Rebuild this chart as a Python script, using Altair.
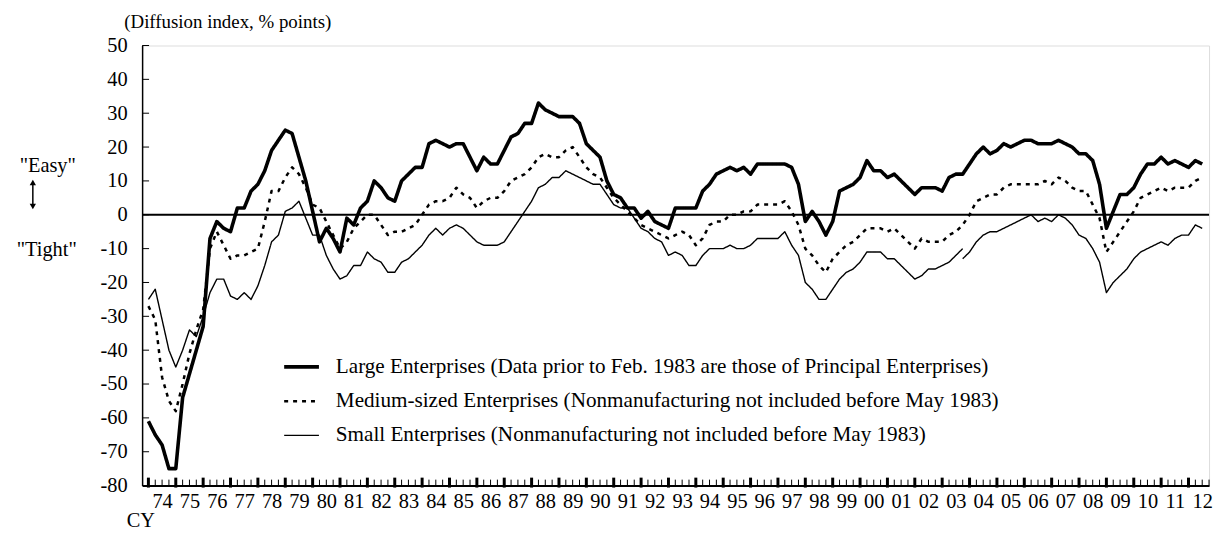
import altair as alt
import pandas as pd

FONT = "Liberation Serif"
START_YEAR = 1974          # first observation: 1974 Q1, quarterly data
NEW_BASIS_INDEX = 119      # Small Enterprises: new survey basis starts here (2003 Q4)

# Lending attitudes DI, quarterly, 1974Q1 ... 2012Q3
large = [-61, -65, -68, -75, -75, -54, -47, -40, -33, -7, -2, -4, -5, 2, 2, 7, 9, 13, 19, 22,
         25, 24, 17, 10, 1, -8, -4, -7, -11, -1, -3, 2, 4, 10, 8, 5, 4, 10, 12, 14,
         14, 21, 22, 21, 20, 21, 21, 17, 13, 17, 15, 15, 19, 23, 24, 27, 27, 33, 31, 30,
         29, 29, 29, 27, 21, 19, 17, 10, 6, 5, 2, 2, -1, 1, -2, -3, -4, 2, 2, 2,
         2, 7, 9, 12, 13, 14, 13, 14, 12, 15, 15, 15, 15, 15, 14, 9, -2, 1, -2, -6,
         -2, 7, 8, 9, 11, 16, 13, 13, 11, 12, 10, 8, 6, 8, 8, 8, 7, 11, 12, 12,
         15, 18, 20, 18, 19, 21, 20, 21, 22, 22, 21, 21, 21, 22, 21, 20, 18, 18, 16, 9,
         -4, 1, 6, 6, 8, 12, 15, 15, 17, 15, 16, 15, 14, 16, 15]
medium = [-27, -31, -48, -55, -58, -50, -41, -34, -28, -10, -5, -9, -13, -12, -12, -11, -10, -2, 7, 7,
          11, 14, 12, 8, 3, 2, -2, -6, -10, -8, -4, -2, 0, 0, -3, -6, -5, -5, -4, -3,
          0, 3, 4, 4, 5, 8, 6, 5, 2, 4, 5, 5, 7, 10, 11, 12, 14, 17, 18, 17,
          17, 19, 20, 17, 14, 12, 11, 8, 5, 3, 1, -1, -3, -4, -5, -6, -7, -6, -5, -6,
          -9, -7, -3, -2, -2, 0, 0, 1, 1, 3, 3, 3, 3, 4, 1, -3, -10, -12, -15, -17,
          -13, -11, -9, -8, -6, -4, -4, -4, -5, -4, -6, -8, -10, -7, -8, -8, -8, -6, -5, -3,
          0, 4, 5, 6, 6, 8, 9, 9, 9, 9, 9, 10, 9, 11, 10, 8, 7, 7, 3, -1,
          -11, -8, -5, -2, 1, 5, 6, 7, 8, 7, 8, 8, 8, 10, 11]
small_old = [-25, -22, -31, -40, -45, -40, -34, -36, -30, -23, -19, -19, -24, -25, -23, -25, -21, -15, -8, -6,
             1, 2, 4, -1, -6, -6, -12, -16, -19, -18, -15, -15, -11, -13, -14, -17, -17, -14, -13, -11,
             -9, -6, -4, -6, -4, -3, -4, -6, -8, -9, -9, -9, -8, -5, -2, 1, 4, 8, 9, 11,
             11, 13, 12, 11, 10, 9, 9, 6, 3, 2, 2, -1, -4, -5, -7, -8, -12, -11, -12, -15,
             -15, -12, -10, -10, -10, -9, -10, -10, -9, -7, -7, -7, -7, -5, -9, -12, -20, -22, -25, -25,
             -22, -19, -17, -16, -14, -11, -11, -11, -13, -13, -15, -17, -19, -18, -16, -16, -15, -14, -12, -10]
small_new = [-13, -11, -8, -6, -5, -5, -4, -3, -2, -1, 0, -2, -1, -2, 0, -1, -3, -6, -7, -10,
             -14, -23, -20, -18, -16, -13, -11, -10, -9, -8, -9, -7, -6, -6, -3, -4]

names = [
    "Large Enterprises (Data prior to Feb. 1983 are those of Principal Enterprises)",
    "Medium-sized Enterprises (Nonmanufacturing not included before May 1983)",
    "Small Enterprises (Nonmanufacturing not included before May 1983)",
]
years = list(range(1974, 2013))
y_ticks = list(range(-80, 51, 10))

W, H = 1074, 443
X_DOMAIN = [1973.77, 2012.75]
TICK_FS = 20.5


def t_of(i):
    return START_YEAR + i / 4


rows = []
for i, v in enumerate(large):
    rows.append({"t": t_of(i), "v": v, "series": names[0], "seg": "L"})
for i, v in enumerate(medium):
    rows.append({"t": t_of(i), "v": v, "series": names[1], "seg": "M"})
for i, v in enumerate(small_old):
    rows.append({"t": t_of(i), "v": v, "series": names[2], "seg": "S1"})
for k, v in enumerate(small_new):
    rows.append({"t": t_of(NEW_BASIS_INDEX + k), "v": v, "series": names[2], "seg": "S2"})
df = pd.DataFrame(rows)

xscale = alt.Scale(domain=X_DOMAIN, nice=False, zero=False)
yscale = alt.Scale(domain=[-80, 50], nice=False, zero=False)

xaxis = alt.Axis(
    values=[y + 0.5 for y in years],
    labelExpr="substring(toString(floor(datum.value)), 2, 4)",
    ticks=False, grid=False, domainColor="black", domainWidth=2,
    labelFont=FONT, labelFontSize=TICK_FS, labelColor="black", labelPadding=6,
    labelFlush=False, labelOverlap=False, labelBound=False,
    title="CY", titleX=-16, titleY=35, titleAlign="left", titleBaseline="middle",
    titleFont=FONT, titleFontSize=TICK_FS, titleFontWeight="normal", titleColor="black")
yaxis = alt.Axis(
    values=y_ticks, labelExpr="toString(datum.value)",
    ticks=False, grid=False, domainColor="black", domainWidth=1.5,
    labelFont=FONT, labelFontSize=TICK_FS, labelColor="black", labelPadding=15,
    labelOverlap=False, labelFlush=False, labelBound=False, title=None)

leg = alt.Legend(
    title=None, orient="none", legendX=141, legendY=304, direction="vertical",
    symbolType="stroke", symbolSize=1225, symbolStrokeColor="black",
    labelFont=FONT, labelFontSize=21.3, labelColor="black", labelOffset=15,
    labelLimit=0, rowPadding=5, padding=0,
)

X = lambda: alt.X("t:Q", scale=xscale, axis=xaxis)
Y = lambda: alt.Y("v:Q", scale=yscale, axis=yaxis)

lines = alt.Chart(df).mark_line(strokeJoin="round").encode(
    x=X(), y=Y(),
    color=alt.Color("series:N", scale=alt.Scale(domain=names, range=["black"] * 3), legend=leg),
    strokeDash=alt.StrokeDash("series:N", scale=alt.Scale(domain=names, range=[[1, 0], [4, 5], [1, 0]]), legend=leg),
    strokeWidth=alt.StrokeWidth("series:N", scale=alt.Scale(domain=names, range=[3.6, 1.4, 1.2]), legend=leg),
    detail="seg:N",
)

zero = alt.Chart(pd.DataFrame({"v": [0]})).mark_rule(color="black", strokeWidth=2).encode(
    y=Y(), x=alt.value(0), x2=alt.value(W))

ytick_df = pd.DataFrame({"v": y_ticks})
yticks = alt.Chart(ytick_df).mark_rule(color="black", strokeWidth=1).encode(
    y=Y(), x=alt.value(0), x2=alt.value(7))

q_ticks = [y + q / 4 for y in years for q in range(1, 4)]
thin = alt.Chart(pd.DataFrame({"t": q_ticks})).mark_rule(color="black", strokeWidth=1).encode(
    x=X(), y=alt.value(H - 6), y2=alt.value(H))
thick = alt.Chart(pd.DataFrame({"t": [float(y) for y in years]})).mark_rule(color="black", strokeWidth=3).encode(
    x=X(), y=alt.value(H - 8), y2=alt.value(H + 2))

one = pd.DataFrame({"a": [0]})
title_txt = alt.Chart(one).mark_text(text="(Diffusion index, % points)", font=FONT, fontSize=19,
                                      align="left", baseline="middle", color="black").encode(
    x=alt.value(-18), y=alt.value(-24))
easy = alt.Chart(one).mark_text(text='"Easy"', font=FONT, fontSize=20.5, align="center",
                                baseline="middle", color="black").encode(
    x=alt.value(-95), y=alt.value(121))
tight = alt.Chart(one).mark_text(text='"Tight"', font=FONT, fontSize=20.5, align="center",
                                 baseline="middle", color="black").encode(
    x=alt.value(-96), y=alt.value(206))
arrow_line = alt.Chart(one).mark_rule(color="black", strokeWidth=1.5).encode(
    x=alt.value(-110), y=alt.value(139), y2=alt.value(161))
arrow_up = alt.Chart(one).mark_point(shape="triangle-up", filled=True, size=40, color="black", opacity=1).encode(
    x=alt.value(-110), y=alt.value(138))
arrow_dn = alt.Chart(one).mark_point(shape="triangle-down", filled=True, size=40, color="black", opacity=1).encode(
    x=alt.value(-110), y=alt.value(162))

chart = alt.layer(
    zero, yticks, thin, thick, lines, title_txt, easy, tight, arrow_line, arrow_up, arrow_dn
).properties(
    width=W, height=H,
    autosize=alt.AutoSizeParams(type="none"),
    padding={"left": 135, "top": 36, "right": 7, "bottom": 50},
).configure_view(stroke="#808080", strokeWidth=1.5).configure(background="white")

chart.save("out.html", embed_options={"renderer": "svg", "actions": False})
